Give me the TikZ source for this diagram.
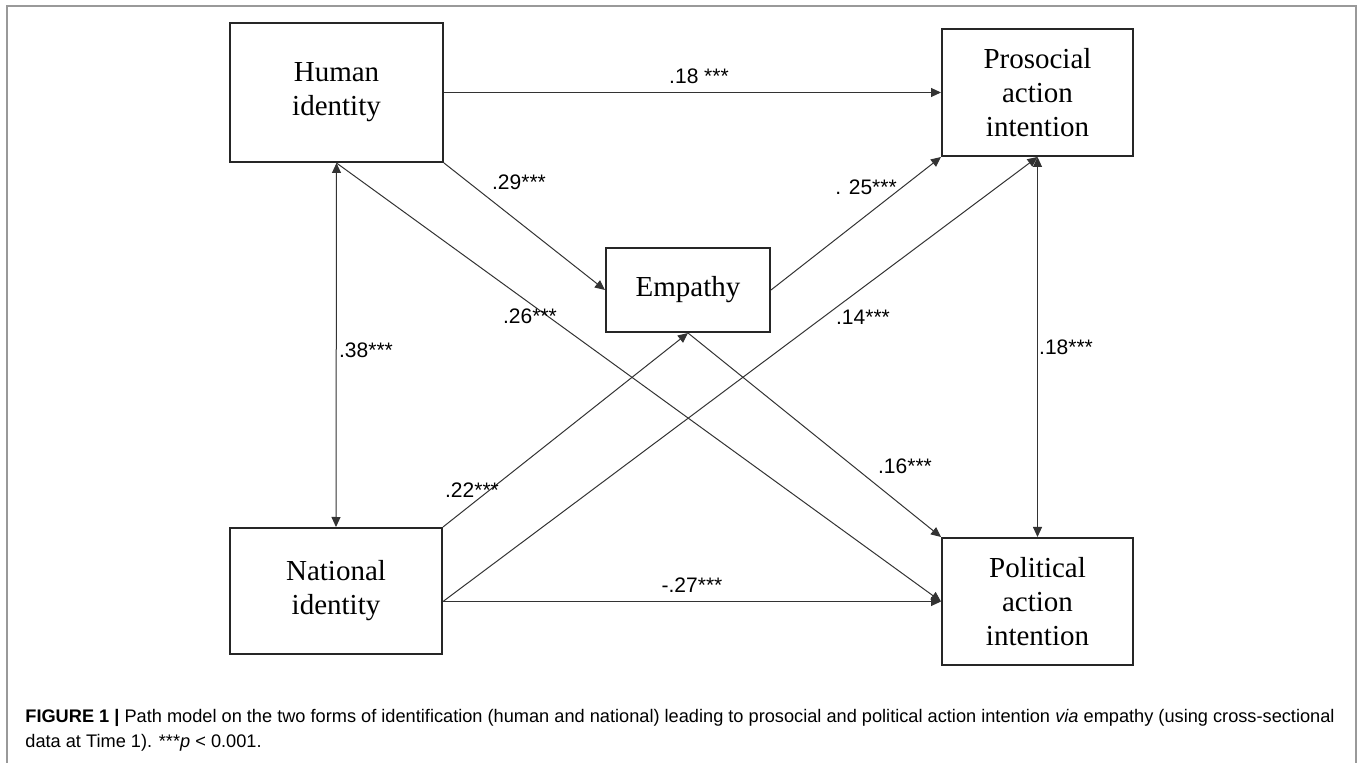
\documentclass[tikz,border=0pt]{standalone}
\usepackage{fontspec}
\setmainfont{Liberation Serif}
\setsansfont{Liberation Sans}
\usetikzlibrary{arrows.meta}

\begin{document}
\begin{tikzpicture}[x=0.5pt, y=-0.5pt,
      box/.style={draw=black!85, line width=1pt, align=center, inner sep=0pt,
        font=\fontsize{14.5}{17}\selectfont},
      arr/.style={-{Triangle[length=5pt, width=4.5pt]}, line width=0.5pt, draw=black!80},
      dbl/.style={{Triangle[length=5pt, width=4.5pt]}-{Triangle[length=5pt, width=4.5pt]},
        line width=0.5pt, draw=black!80},
      lbl/.style={font=\sffamily\fontsize{10.5}{12}\selectfont, inner sep=0pt}
    ]
    \useasboundingbox (0,0) rectangle (1358,763);

    % ══ frame ═════════════════════════════════════════════════════════════════
    \draw[gray!80, line width=0.75pt] (7,763) -- (7,6) -- (1356,6) -- (1356,763);

    % ══ variables ═════════════════════════════════════════════════════════════
    \node[box, minimum width=106.5pt, minimum height=69.5pt] (hum) at (336.5, 92.5)
      {Human\\identity};
    \node[box, minimum width=106pt, minimum height=63pt] (nat) at (336, 591)
      {National\\identity};
    \node[box, minimum width=82pt, minimum height=42pt] (emp) at (688, 290)
      {Empathy};
    \node[box, minimum width=95.5pt, minimum height=63.5pt] (pro) at (1037.5, 92.5)
      {Prosocial\\action\\intention};
    \node[box, minimum width=95.5pt, minimum height=63.5pt] (pol) at (1037.5, 601.5)
      {Political\\action\\intention};

    \coordinate (natout) at (pol.west -| nat.east);

    % ══ paths ═════════════════════════════════════════════════════════════════
    \draw[arr] (hum.east) -- (pro.west);
    \draw[arr] (hum.south east) -- (emp.west);
    \draw[arr] (hum.south) -- (pol.west);
    \draw[dbl] (hum.south) -- (nat.north);
    \draw[arr] (nat.north east) -- (emp.south);
    \draw[arr] (natout) -- (pro.south);
    \draw[arr] (natout) -- (pol.west);
    \draw[arr] (emp.east) -- (pro.south west);
    \draw[arr] (emp.south) -- (pol.north west);
    \draw[dbl] (pro.south) -- (pol.north);

    % coefficients
    \node[lbl] (c-hp) at (699, 76)  {.18 ***};
    \node[lbl] (c-he) at (519, 182) {.29***};
    \node[lbl] (c-ep) at (866, 187) {. 25***};
    \node[lbl] (c-hl) at (530, 316) {.26***};
    \node[lbl] (c-nl) at (863, 317) {.14***};
    \node[lbl] (c-hn) at (366, 350) {.38***};
    \node[lbl] (c-pl) at (1066, 347) {.18***};
    \node[lbl] (c-ne) at (472, 490) {.22***};
    \node[lbl] (c-el) at (905, 466) {.16***};
    \node[lbl] (c-np) at (692, 585) {-.27***};

    % ══ caption ═══════════════════════════════════════════════════════════════
    \node[anchor=north west, align=left, inner sep=0pt,
          font=\sffamily\fontsize{9.1}{12.5}\selectfont] (cap) at (25, 709)
      {\textbf{FIGURE 1 |} Path model on the two forms of identification (human and national)
       leading to prosocial and political action intention \textit{via} empathy (using cross-sectional\\
       data at Time 1). ***\textit{p} < 0.001.};

  \end{tikzpicture}
\end{document}
